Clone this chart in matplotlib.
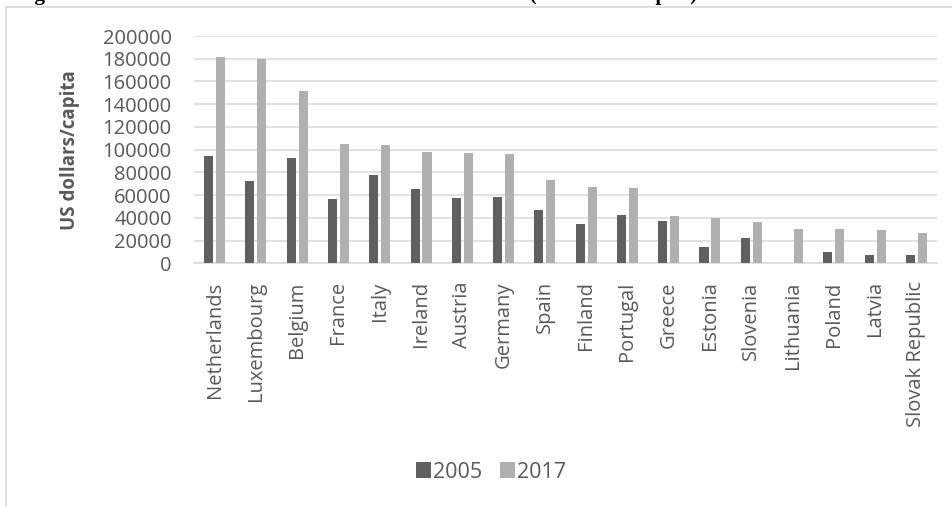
import numpy as np
import matplotlib
matplotlib.use('Agg')
import matplotlib.pyplot as plt
from matplotlib.patches import Rectangle

countries = ["Netherlands", "Luxembourg", "Belgium", "France", "Italy", "Ireland",
             "Austria", "Germany", "Spain", "Finland", "Portugal", "Greece",
             "Estonia", "Slovenia", "Lithuania", "Poland", "Latvia", "Slovak Republic"]
wealth_2005 = [94000, 72200, 92800, 56400, 77500, 65200, 57800, 58400, 47000,
               34400, 42600, 37300, 14400, 22300, 0, 10200, 7600, 7000]
wealth_2017 = [181100, 179400, 151200, 104800, 104200, 98300, 97200, 96600, 73100,
               67000, 66600, 41900, 40200, 36700, 30500, 30000, 29600, 26400]

DARK = "#606060"
LIGHT = "#b0b0b0"
GRID = "#d9d9d9"
TXT = "#595959"

plt.rcParams['font.family'] = ['Open Sans', 'DejaVu Sans']

fig = plt.figure(figsize=(9.52, 5.07), dpi=100)

# frame of the chart object
fig.patches.append(Rectangle((6 / 952, -0.1), 1.2, 1 - 7 / 507 + 0.1, transform=fig.transFigure,
                             fill=False, edgecolor=GRID, linewidth=1.2))

# caption line above the chart (only its lower edge is on the page)
fig.text(16 / 952, 1 - 5 / 507,
         "Figure 2: Net wealth of households in euro area countries (US dollars/capita)",
         family='Liberation Serif', weight='bold', fontsize=15, va='bottom', ha='left')

ax = fig.add_axes([194 / 952, 1 - 263.3 / 507, (937 - 194) / 952, (263.3 - 36) / 507])
x = np.arange(len(countries))
w = 0.22
ax.bar(x - 0.145, wealth_2005, w, color=DARK, label="2005", zorder=3)
ax.bar(x + 0.145, wealth_2017, w, color=LIGHT, label="2017", zorder=3)

ax.set_xlim(-0.5, len(countries) - 0.5)
ax.set_ylim(0, 200000)
ax.set_yticks(np.arange(0, 200001, 20000))
ax.yaxis.grid(True, color=GRID, linewidth=1.1, zorder=0)
ax.set_axisbelow(True)
for s in ['top', 'right', 'left']:
    ax.spines[s].set_visible(False)
ax.spines['bottom'].set_color(GRID)
ax.spines['bottom'].set_linewidth(1.1)
ax.tick_params(length=0)
ax.tick_params(axis='y', pad=16, labelsize=14.5, labelcolor=TXT)
ax.set_xticks(x)
ax.set_xticklabels(countries, rotation=90, fontsize=14.5, color=TXT)
ax.tick_params(axis='x', pad=13)

ax.set_ylabel("US dollars/capita", fontsize=13.5, weight='bold', color=TXT)
ax.yaxis.set_label_coords((80 - 194) / (937 - 194), 0.5)

ax.legend(loc='center', bbox_to_anchor=(491 / 952, 1 - 472 / 507), bbox_transform=fig.transFigure,
          ncol=2, frameon=False, fontsize=15.5, labelcolor=TXT,
          handlelength=0.7, handleheight=0.7, handletextpad=0.1, columnspacing=0.8)

fig.savefig("out.png", dpi=100)
